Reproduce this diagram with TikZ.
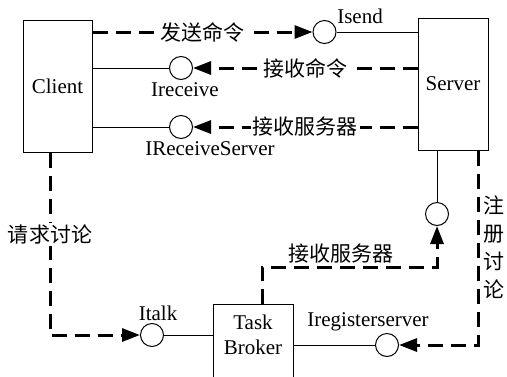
\documentclass[tikz,border=0pt]{standalone}
\usepackage{fontspec}
\setmainfont{Liberation Serif}
\newfontfamily\cjk{Noto Sans CJK SC}
\usetikzlibrary{arrows.meta}

\begin{document}
\begin{tikzpicture}[x=0.5pt,y=-0.5pt,
	box/.style={draw,line width=0.5pt,inner sep=0pt,align=center,font=\fontsize{10.5}{12.5}\selectfont},
	port/.style={circle,draw,line width=0.5pt,minimum size=11.5pt,inner sep=0pt},
	lbl/.style={font=\fontsize{10.5}{12}\selectfont,inner sep=1pt},
	msg/.style={fill=white,inner sep=1pt,font=\fontsize{10.5}{12}\selectfont\cjk},
	flow/.style={line width=1.5pt,dash pattern=on 7.5pt off 4pt},
	tip/.style={-{Triangle[length=9pt,width=6.5pt]}},
	wire/.style={line width=0.5pt}]
	\clip (0,0) rectangle (507,376);
	
	\node[box,minimum width=34.5pt,minimum height=66pt] (client) at (57.5,86) {Client};
	\node[box,minimum width=35pt,minimum height=66pt] (server) at (453,84) {Server};
	\node[box,minimum width=40pt,anchor=north,inner ysep=5pt,text depth=30pt] (broker) at (253,304) {Task\\Broker};
	
	\node[port,label={[lbl]30:Isend}] (isend) at (324.5,32) {};
	\node[port,label={[lbl,xshift=2pt]below:Ireceive}] (ireceive) at (181,68) {};
	\node[port,label={[lbl,xshift=14.5pt]below:IReceiveServer}] (irsrv) at (181,127) {};
	\node[port] (isrv) at (437,214) {};
	\node[port,label={[lbl,xshift=3pt]above:Italk}] (italk) at (152,335) {};
	\node[port,label={[lbl,xshift=-9.5pt]above:Iregisterserver}] (ireg) at (387,345) {};
	
	\coordinate (c1) at (50,335);
	\coordinate (c2) at (478,345);
	\coordinate (c3) at (262,267);
	
	% solid connections
	\draw[wire] (client.east |- ireceive) -- (ireceive);
	\draw[wire] (client.east |- irsrv) -- (irsrv);
	\draw[wire] (isend) -- (server.west |- isend);
	\draw[wire] (server.south -| isrv) -- (isrv);
	\draw[wire] (italk) -- (italk -| broker.west);
	\draw[wire] (ireg) -- (ireg -| broker.east);
	
	% messages
	\draw[flow,tip] (client.east |- isend) -- node[msg]{发送命令} (isend);
	\draw[flow,tip] (server.west |- ireceive) -- node[msg]{接收命令} (ireceive);
	\draw[flow,tip] (server.west |- irsrv) -- node[msg]{接收服务器} (irsrv);
	\draw[flow,tip] (client.south -| c1) -- node[msg,pos=.45]{请求讨论} (c1) -- (italk);
	\draw[flow,tip] (server.south -| c2) -- node[right,align=center,inner sep=2pt,font=\fontsize{10.5}{14}\selectfont\cjk]{注\\册\\讨\\论} (c2) -- (ireg);
	\draw[flow,tip] (broker.north -| c3) -- (c3) -- node[above,pos=.45,inner sep=1pt,font=\fontsize{10.5}{12}\selectfont\cjk]{接收服务器} (c3 -| isrv) -- (isrv);
	
\end{tikzpicture}
\end{document}
